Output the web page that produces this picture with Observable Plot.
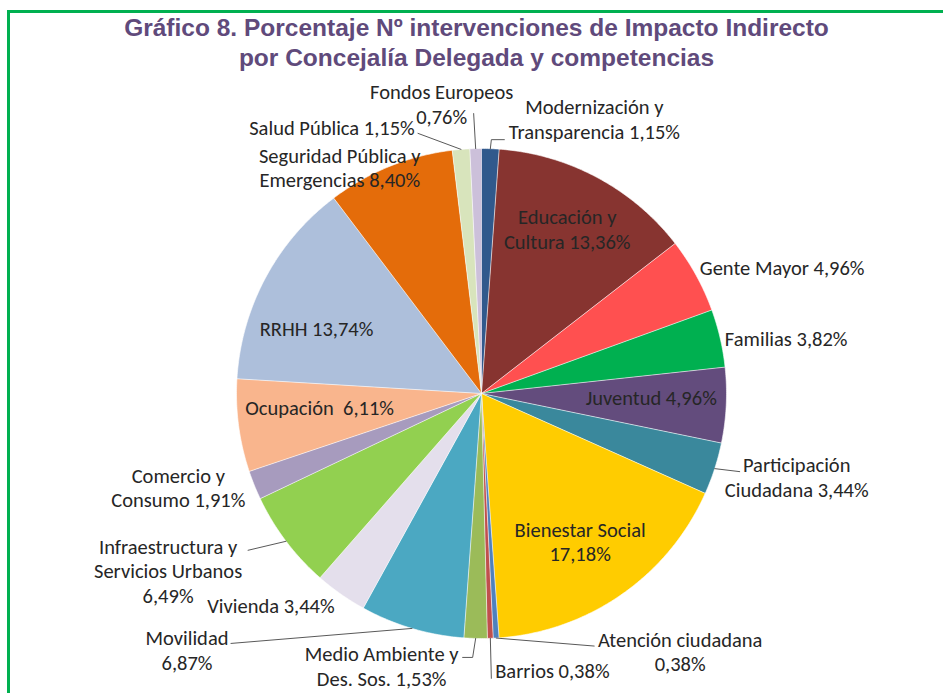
<!DOCTYPE html>
<html><head><meta charset="utf-8">
<script src="https://cdn.jsdelivr.net/npm/d3@7"></script>
<script src="https://cdn.jsdelivr.net/npm/@observablehq/plot@0.6"></script>
<style>
body{margin:0;background:#fff;}
#wrap{position:relative;width:943px;height:693px;overflow:hidden;background:#fff;}
#frame{position:absolute;left:7px;top:10px;width:2000px;height:2000px;border-top:3px solid #00B050;border-left:3px solid #00B050;z-index:2;pointer-events:none;}
#title{position:absolute;top:13px;left:0;width:953px;text-align:center;font:bold 24.5px "Liberation Sans",Arial,sans-serif;color:#604A7B;line-height:30px;}
#chart{position:absolute;top:75px;left:0;}
</style></head>
<body>
<div id="wrap">
<div id="frame"></div>
<div id="title">Gráfico 8. Porcentaje Nº intervenciones de Impacto Indirecto<br>por Concejalía Delegada y competencias</div>
<div id="chart"></div>
</div>
<script>
// ---- data ----
const categories = ["Modernización y Transparencia","Educación y Cultura","Gente Mayor","Familias","Juventud","Participación Ciudadana","Bienestar Social","Atención ciudadana","Barrios","Medio Ambiente y Des. Sos.","Movilidad","Vivienda","Infraestructura y Servicios Urbanos","Comercio y Consumo","Ocupación","RRHH","Seguridad Pública y Emergencias","Salud Pública","Fondos Europeos"];
const values = [1.15,13.36,4.96,3.82,4.96,3.44,17.18,0.38,0.38,1.53,6.87,3.44,6.49,1.91,6.11,13.74,8.40,1.15,0.76];
const labelTexts = ["Modernización y\nTransparencia 1,15%","Educación y\nCultura 13,36%","Gente Mayor 4,96%","Familias 3,82%","Juventud 4,96%","Participación\nCiudadana 3,44%","Bienestar Social\n17,18%","Atención ciudadana\n0,38%","Barrios 0,38%","Medio Ambiente y\nDes. Sos. 1,53%","Movilidad\n6,87%","Vivienda 3,44%","Infraestructura y\nServicios Urbanos\n6,49%","Comercio y\nConsumo 1,91%","Ocupación  6,11%","RRHH 13,74%","Seguridad Pública y\nEmergencias 8,40%","Salud Pública 1,15%","Fondos Europeos\n0,76%"];
const colors = ["#31598C","#873430","#FF5050","#00B050","#634C7D","#3A889C","#FFCC00","#4F81BD","#C0504D","#9BBB59","#4BA8C2","#E4DFEC","#92D050","#A79BBE","#F9B58D","#ADBFDB","#E46C0A","#D8E4BC","#CCC0DA"];

// ---- layout (pixel nudges from each slice's outer-edge midpoint) ----
const R = 245, CX = 481, CY = 318, W = 943, H = 618;
const labelOffsets = [[104,-30],[-30,51],[86,-8],[66,0],[-75,-8],[82,8],[-42,-53],[184,13],[62,32],[-94,27],[-225,21],[-70,11],[-118,29],[-76,2],[81,-19],[51,50],[-50,1],[-129,-22],[-34,-45]];
const leaders = {
  0: [[0,0],[1,-9],[14,-9]],
  5: [[0,0],[25,3]],
  7: [[0,0],[98,8]],
  8: [[0,0],[1,40]],
  9: [[0,0],[-3,19],[-13,19]],
  10: [[0,0],[-181,15]],
  12: [[0,0],[-38,9]],
  17: [[0,0],[-43,-16]],
  18: [[0,0],[-2,-35]]
};

const arcs = d3.pie().sort(null).value(d => d)(values);
const polys = [];
arcs.forEach((a, i) => {
  const name = categories[i];
  polys.push({name, u: 0, v: 0});
  const n = Math.max(2, Math.ceil((a.endAngle - a.startAngle) / (Math.PI / 360)));
  for (let k = 0; k <= n; k++) {
    const t = a.startAngle + (a.endAngle - a.startAngle) * k / n;
    polys.push({name, u: Math.sin(t), v: Math.cos(t)});
  }
});
const edge = arcs.map(a => { const m = (a.startAngle + a.endAngle) / 2; return [Math.sin(m), Math.cos(m)]; });
const labels = arcs.map((a, i) => ({
  text: labelTexts[i],
  u: edge[i][0] + labelOffsets[i][0] / R,
  v: edge[i][1] - labelOffsets[i][1] / R
}));
const leaderPts = [];
Object.entries(leaders).forEach(([i, pts]) => pts.forEach(p => leaderPts.push({id: i, u: edge[i][0] + p[0] / R, v: edge[i][1] - p[1] / R})));

const chart = Plot.plot({
  width: W, height: H, margin: 0,
  x: {domain: [-CX / R, (W - CX) / R], axis: null},
  y: {domain: [-(H - CY) / R, CY / R], axis: null},
  color: {type: "ordinal", domain: categories, range: colors},
  style: {background: "transparent"},
  marks: [
    Plot.line(polys, {x: "u", y: "v", z: "name", fill: "name", stroke: "#fff", strokeWidth: 0.6, curve: "linear"}),
    Plot.line(leaderPts, {x: "u", y: "v", z: "id", stroke: "#595959", strokeWidth: 1}),
    Plot.text(labels, {x: "u", y: "v", text: "text", fontSize: 20.5, lineHeight: 1.2, fill: "#262626", fontFamily: "Carlito, Lato, sans-serif"})
  ]
});
document.getElementById("chart").appendChild(chart);
</script>
</body></html>
